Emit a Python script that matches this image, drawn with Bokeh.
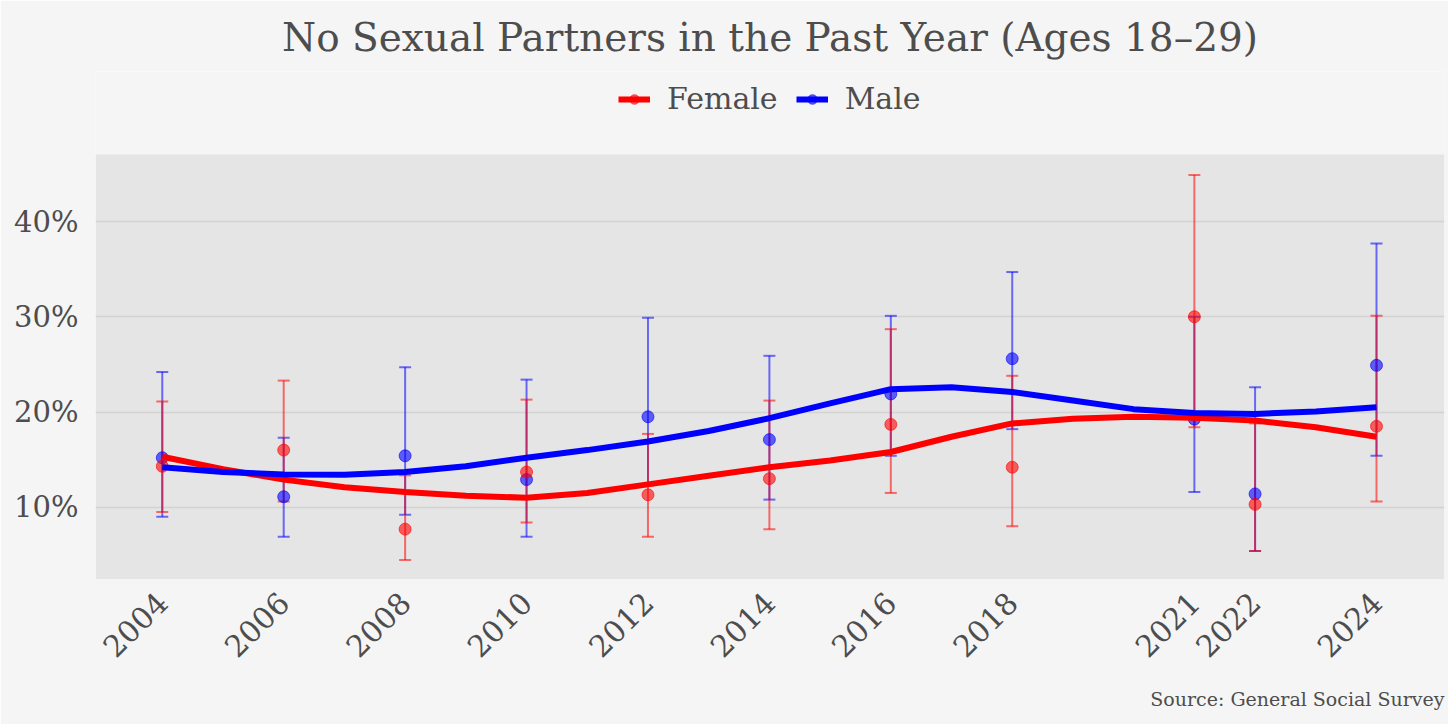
from math import pi

from bokeh.embed import file_html
from bokeh.models import (
    BoxAnnotation,
    ColumnDataSource,
    FixedTicker,
    Legend,
    LegendItem,
    PrintfTickFormatter,
    Range1d,
    TeeHead,
    Title,
    Whisker,
)
from bokeh.plotting import figure
from bokeh.resources import INLINE

# survey years with estimates (percent) and 95% interval bounds
years = [2004, 2006, 2008, 2010, 2012, 2014, 2016, 2018, 2021, 2022, 2024]

female = [14.3, 16.0, 7.7, 13.7, 11.3, 13.0, 18.7, 14.2, 30.0, 10.3, 18.5]
female_lo = [9.5, 10.6, 4.45, 8.4, 6.9, 7.7, 11.5, 8.0, 18.4, 5.4, 10.6]
female_hi = [21.1, 23.3, 13.35, 21.3, 17.7, 21.2, 28.7, 23.8, 44.9, 18.8, 30.1]

male = [15.2, 11.1, 15.4, 12.9, 19.5, 17.1, 21.9, 25.6, 19.25, 11.4, 24.9]
male_lo = [9.0, 6.9, 9.2, 6.9, 12.3, 10.8, 15.4, 18.2, 11.6, 5.4, 15.4]
male_hi = [24.2, 17.3, 24.7, 23.4, 29.9, 25.9, 30.1, 34.7, 30.0, 22.6, 37.7]

# smoothed trend, one value per year
smooth_years = [2004, 2005, 2006, 2007, 2008, 2009, 2010, 2011, 2012, 2013, 2014,
                2015, 2016, 2017, 2018, 2019, 2020, 2021, 2022, 2023, 2024]
female_smooth = [15.3, 14.0, 12.9, 12.1, 11.6, 11.2, 11.0, 11.5, 12.4, 13.3, 14.2,
                 14.9, 15.8, 17.4, 18.8, 19.3, 19.5, 19.4, 19.1, 18.4, 17.4]
male_smooth = [14.2, 13.7, 13.45, 13.4, 13.7, 14.3, 15.2, 16.0, 16.9, 18.0, 19.35,
               20.9, 22.4, 22.6, 22.1, 21.2, 20.3, 19.9, 19.8, 20.05, 20.5]

y_ticks = [10, 20, 30, 40]

# grey panel spans this value range; the frame goes higher to hold the legend
PANEL_LO, PANEL_HI = 2.41, 47.04

FONT = "DejaVu Serif"
TEXT = "#4d4d4d"

p = figure(
    frame_width=1349, frame_height=508,
    output_backend="svg", toolbar_location=None,
    x_range=Range1d(2002.9, 2025.12), y_range=Range1d(PANEL_LO, 55.76),
    background_fill_color="#f5f5f5", border_fill_color="#f5f5f5",
    outline_line_color=None,
    min_border_left=95, min_border_right=4, min_border_top=70, min_border_bottom=10,
)

p.title.text = "No Sexual Partners in the Past Year (Ages 18\u201329)"
p.title.align = "center"
p.title.text_font = FONT
p.title.text_font_size = "39px"
p.title.text_font_style = "normal"
p.title.text_color = TEXT
p.title.standoff = 24

panel = BoxAnnotation(bottom=PANEL_LO, top=PANEL_HI, fill_color="#e5e5e5",
                      fill_alpha=1, line_color=None, level="image")
p.add_layout(panel)

src_f = ColumnDataSource(data=dict(x=years, y=female, lo=female_lo, hi=female_hi))
src_m = ColumnDataSource(data=dict(x=years, y=male, lo=male_lo, hi=male_hi))

for src, col in [(src_m, "blue"), (src_f, "red")]:
    w = Whisker(
        base="x", lower="lo", upper="hi", source=src,
        line_color=col, line_alpha=0.55, line_width=2,
        lower_head=TeeHead(size=12, line_color=col, line_alpha=0.55, line_width=2),
        upper_head=TeeHead(size=12, line_color=col, line_alpha=0.55, line_width=2),
    )
    p.add_layout(w)

pt_m = p.scatter("x", "y", source=src_m, size=12, fill_color="blue", fill_alpha=0.6,
                 line_color="blue", line_alpha=0.6)
pt_f = p.scatter("x", "y", source=src_f, size=12, fill_color="red", fill_alpha=0.6,
                 line_color="red", line_alpha=0.6)

ln_f = p.line(smooth_years, female_smooth, line_color="red", line_width=6)
ln_m = p.line(smooth_years, male_smooth, line_color="blue", line_width=6)

# legend location is its bottom-left corner, measured from the frame's bottom-left
legend = Legend(
    items=[LegendItem(label="Female", renderers=[ln_f, pt_f]),
           LegendItem(label="Male", renderers=[ln_m, pt_m])],
    orientation="horizontal", location=(523, 463),
    background_fill_alpha=0, border_line_color=None,
    label_text_font=FONT, label_text_font_size="30px", label_text_color=TEXT,
    glyph_width=32, glyph_height=24, label_standoff=17, spacing=18,
    margin=0, padding=4,
)
p.add_layout(legend)

p.xaxis.ticker = FixedTicker(ticks=years)
p.xaxis.major_label_orientation = pi / 4
p.yaxis.ticker = FixedTicker(ticks=y_ticks)
p.yaxis.formatter = PrintfTickFormatter(format="%d%%")

for ax in (p.xaxis, p.yaxis):
    ax.axis_line_color = None
    ax.major_tick_line_color = None
    ax.minor_tick_line_color = None
    ax.major_label_text_font = FONT
    ax.major_label_text_color = TEXT
p.xaxis.major_label_text_font_size = "30px"
p.yaxis.major_label_text_font_size = "29px"
p.xaxis.major_label_standoff = 12
p.yaxis.major_label_standoff = 11

p.xgrid.grid_line_color = None
p.ygrid.grid_line_color = "#d3d3d3"
p.ygrid.grid_line_width = 1.6

cap = Title(text="Source: General Social Survey", align="right",
            text_font=FONT, text_font_size="19px", text_font_style="normal",
            text_color=TEXT, standoff=30)
p.add_layout(cap, "below")

open("out.html", "w").write(file_html(p, INLINE))
